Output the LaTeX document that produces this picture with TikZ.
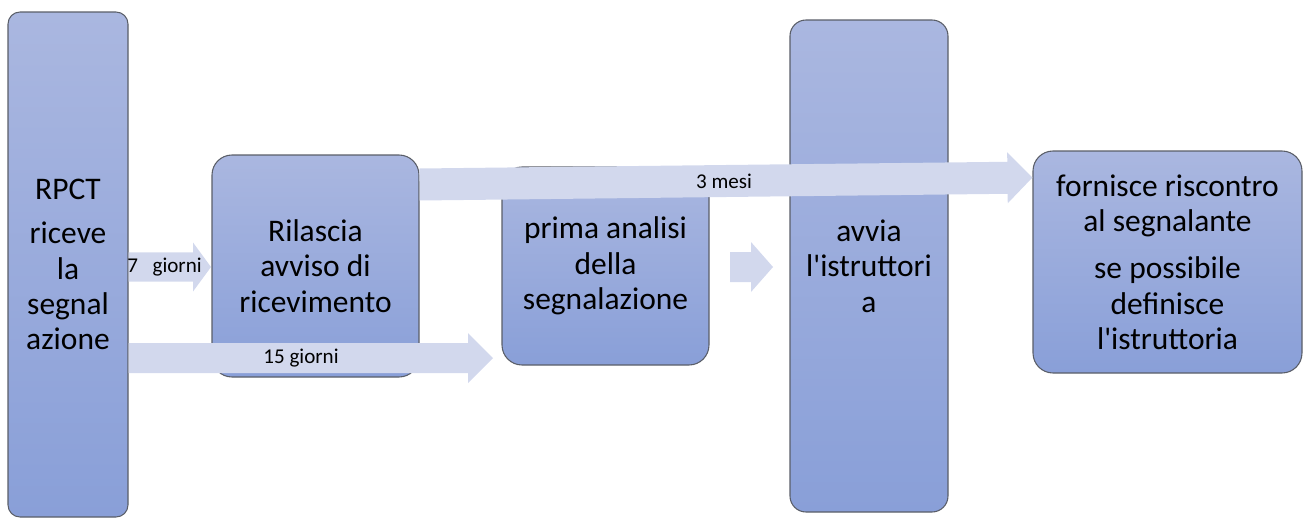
\documentclass[tikz,border=0pt]{standalone}
\usepackage{fontspec}
\setmainfont{Carlito}
\usetikzlibrary{calc}
\definecolor{boxtop}{RGB}{170,183,224}
\definecolor{boxbot}{RGB}{137,159,216}
\definecolor{arrowfill}{RGB}{210,216,237}
\definecolor{boxline}{RGB}{90,94,104}
\newcommand\bigtext{\fontsize{23.6}{26.5}\selectfont}
\newcommand\smalltext{\fontsize{15.8}{18}\selectfont}
\tikzset{
  box/.style={draw=boxline, line width=0.8pt, top color=boxtop, bottom color=boxbot,
    align=center, font=\bigtext, inner sep=0pt, text=black},
  lbl/.style={font=\smalltext, inner sep=0pt, text=black},
}
% #1 start, #2 tip, #3 shaft half width, #4 head half width, #5 head length
\newcommand\blockarrow[5]{%
  \coordinate (hd) at ($(#2)!#5!(#1)$);
  \fill[arrowfill] ($(#1)!#3!90:(#2)$) -- ($(hd)!#3!90:(#2)$) -- ($(hd)!#4!90:(#2)$)
    -- (#2) -- ($(hd)!#4!-90:(#2)$) -- ($(hd)!#3!-90:(#2)$) -- ($(#1)!#3!-90:(#2)$) -- cycle;
}
\begin{document}
\begin{tikzpicture}[x=0.75pt,y=-0.75pt]
\useasboundingbox (0,0) rectangle (1304,518);
% boxes
\node[box, minimum width=90pt, minimum height=378.75pt, rounded corners=9pt] (rpct) at (68,264.5)
  {RPCT\\[7pt]riceve\\la\\segnal\\azione};
\node[box, minimum width=155.25pt, minimum height=166.5pt, rounded corners=15pt] (rila) at (315.5,266)
  {Rilascia\\avviso di\\ricevimento};
\node[box, minimum width=155.25pt, minimum height=148.5pt, rounded corners=15pt] (prima) at (605.5,266)
  {prima analisi\\della\\segnalazione};
\node[box, minimum width=118.5pt, minimum height=369pt, rounded corners=12pt] (avvia) at (869,266)
  {avvia\\l\textquotesingle istruttori\\a};
\node[box, minimum width=201.75pt, minimum height=166.5pt, rounded corners=15pt] (forn) at (1167.5,262)
  {fornisce riscontro\\al segnalante\\[9pt]se possibile\\definisce\\l\textquotesingle istruttoria};
% arrow end points
\coordinate (a7s) at (rpct.east |- 0,267);
\coordinate (a7e) at (211,267);
\coordinate (a15s) at (rpct.east |- 0,358);
\coordinate (a15e) at (493,358);
\coordinate (a3s) at (rila.east |- 0,184.5);
\coordinate (a3e) at (forn.west |- 0,177.5);
\coordinate (ass) at (730,267);
\coordinate (ase) at (773,267);
% block arrows
\blockarrow{a7s}{a7e}{10.9pt}{18.4pt}{13.5pt}
\blockarrow{a15s}{a15e}{11.25pt}{18.75pt}{18.75pt}
\blockarrow{a3s}{a3e}{12pt}{19.1pt}{18.75pt}
\blockarrow{ass}{ase}{11.25pt}{18.75pt}{16.5pt}
% labels
\node[lbl, anchor=west] (l7) at (127,267) {7\hspace{11pt}giorni};
\node[lbl] (l15) at (301,358) {15 giorni};
\node[lbl] (l3) at (724,181) {3 mesi};
\end{tikzpicture}
\end{document}
